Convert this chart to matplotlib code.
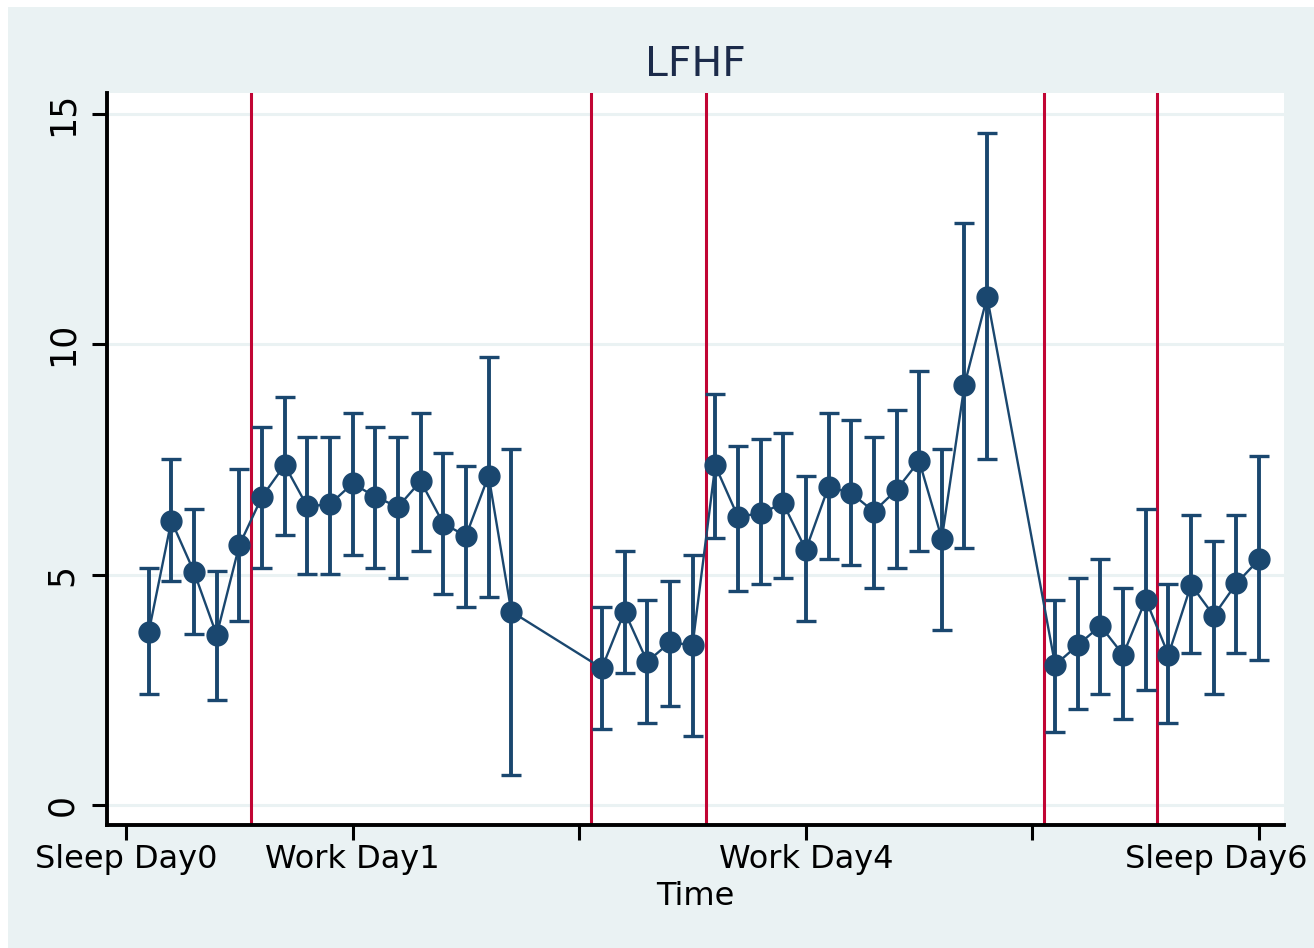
import matplotlib
matplotlib.use('Agg')
import matplotlib.pyplot as plt
from matplotlib.patches import Rectangle
from matplotlib.transforms import ScaledTranslation

# LF/HF ratio by time slot: mean with upper and lower CI bounds
slot = list(range(1, 18)) + list(range(21, 39)) + list(range(41, 51))
lfhf_mean = [3.75, 6.17, 5.06, 3.69, 5.64, 6.69, 7.38, 6.48, 6.53, 6.98,
             6.69, 6.47, 7.03, 6.11, 5.84, 7.15, 4.20,
             2.97, 4.20, 3.11, 3.53, 3.47, 7.37, 6.26, 6.33, 6.55, 5.54,
             6.91, 6.77, 6.37, 6.84, 7.47, 5.78, 9.12, 11.03,
             3.04, 3.47, 3.89, 3.26, 4.46, 3.26, 4.78, 4.11, 4.81, 5.33]
lfhf_upper = [5.14, 7.50, 6.43, 5.08, 7.29, 8.21, 8.86, 7.99, 7.99, 8.50,
              8.21, 7.99, 8.50, 7.65, 7.36, 9.72, 7.73,
              4.29, 5.51, 4.44, 4.86, 5.43, 8.93, 7.79, 7.94, 8.07, 7.15,
              8.50, 8.36, 7.99, 8.57, 9.43, 7.72, 12.64, 14.58,
              4.44, 4.93, 5.35, 4.72, 6.43, 4.79, 6.29, 5.72, 6.29, 7.58]
lfhf_lower = [2.42, 4.86, 3.72, 2.29, 4.00, 5.14, 5.85, 5.01, 5.01, 5.43,
              5.14, 4.93, 5.51, 4.57, 4.30, 4.51, 0.65,
              1.65, 2.86, 1.79, 2.14, 1.50, 5.79, 4.65, 4.79, 4.93, 4.00,
              5.35, 5.21, 4.72, 5.14, 5.51, 3.80, 5.57, 7.50,
              1.58, 2.08, 2.42, 1.86, 2.50, 1.79, 3.29, 2.42, 3.29, 3.15]

# period boundaries
boundaries = [5.5, 20.5, 25.6, 40.5, 45.5]

xtick_pos = [0, 10, 20, 30, 40, 50]
xtick_lab = ['Sleep Day0', 'Work Day1', '', 'Work Day4', '', 'Sleep Day6']
ytick_pos = [0, 5, 10, 15]

navy = '#1a476f'
bg = '#eaf2f3'

plt.rcParams['font.family'] = 'DejaVu Sans'

fig = plt.figure(figsize=(13.14, 9.48), dpi=100)
fig.patch.set_facecolor('white')
fig.patches.append(Rectangle((8 / 1314, 0), 1, 1 - 7 / 948, transform=fig.transFigure,
                             facecolor=bg, edgecolor='none', zorder=-10))

ax = fig.add_axes([107 / 1314, 1 - 825 / 948, (1284 - 107) / 1314, (825 - 93) / 948])
ax.set_facecolor('white')

yerr = [[m - lo for m, lo in zip(lfhf_mean, lfhf_lower)],
        [hi - m for m, hi in zip(lfhf_mean, lfhf_upper)]]
ax.errorbar(slot, lfhf_mean, yerr=yerr, fmt='o-', color=navy, ecolor=navy,
            markersize=15, linewidth=1.7, elinewidth=2.8, capsize=7.5, capthick=2.4,
            zorder=3)

for b in boundaries:
    ax.axvline(b, color='#c10534', linewidth=2.2, zorder=2)

ax.set_xlim(-0.84, 51.1)
ax.set_ylim(-0.434, 15.455)

ax.set_yticks(ytick_pos)
ax.set_yticklabels([str(v) for v in ytick_pos], rotation=90, va='center')
ax.set_xticks(xtick_pos)
ax.set_xticklabels(xtick_lab)

ax.yaxis.grid(True, color=bg, linewidth=2.2, zorder=0)
ax.set_axisbelow(True)

for s in ['top', 'right']:
    ax.spines[s].set_visible(False)
for s in ['left', 'bottom']:
    ax.spines[s].set_linewidth(2.8)

ax.tick_params(axis='both', length=11, width=2.2, colors='black', labelsize=23)
ax.tick_params(axis='y', pad=9, labelsize=25)
ax.tick_params(axis='x', pad=3)

# keep the last label inside the figure
last = ax.get_xticklabels()[-1]
last.set_horizontalalignment('right')
last.set_transform(last.get_transform() + ScaledTranslation(0.48, 0, fig.dpi_scale_trans))

ax.set_xlabel('Time', fontsize=23, labelpad=4)
ax.set_title('LFHF', fontsize=29.5, color='#1c2b4a', pad=12)

fig.savefig('out.png', dpi=100, facecolor=fig.get_facecolor())
